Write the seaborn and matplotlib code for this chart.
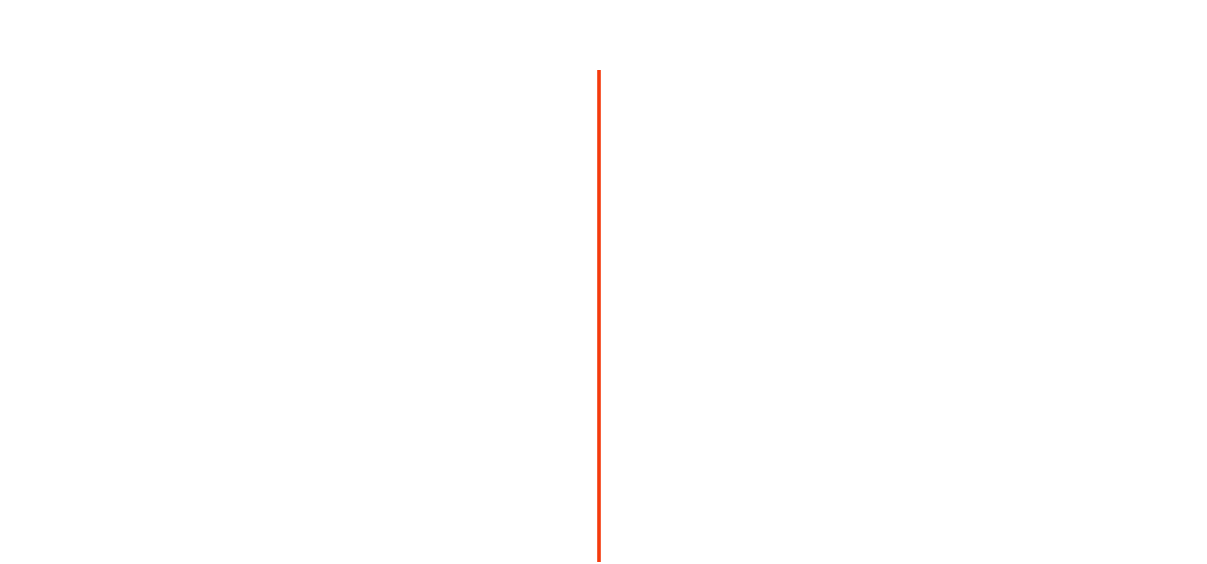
import matplotlib
matplotlib.use("Agg")
import matplotlib.pyplot as plt
import pandas as pd
import seaborn as sns

# single vertical rule
x_values = [0, 0]
y_values = [0, 1]

sns.set_style("white")
df = pd.DataFrame({"x": x_values, "y": y_values})

fig = plt.figure(figsize=(12.07, 5.64), dpi=100)
ax = fig.add_axes([0, 2 / 564, 1, 492 / 564])
sns.lineplot(data=df, x="x", y="y", ax=ax, color="#f43a0c", linewidth=2.6,
             estimator=None, errorbar=None, sort=False)
ax.lines[0].set_solid_capstyle("butt")
ax.set_xlim(-598.5, 608.5)
ax.set_ylim(0, 1)
ax.set_axis_off()

fig.savefig("out.png", dpi=100)
